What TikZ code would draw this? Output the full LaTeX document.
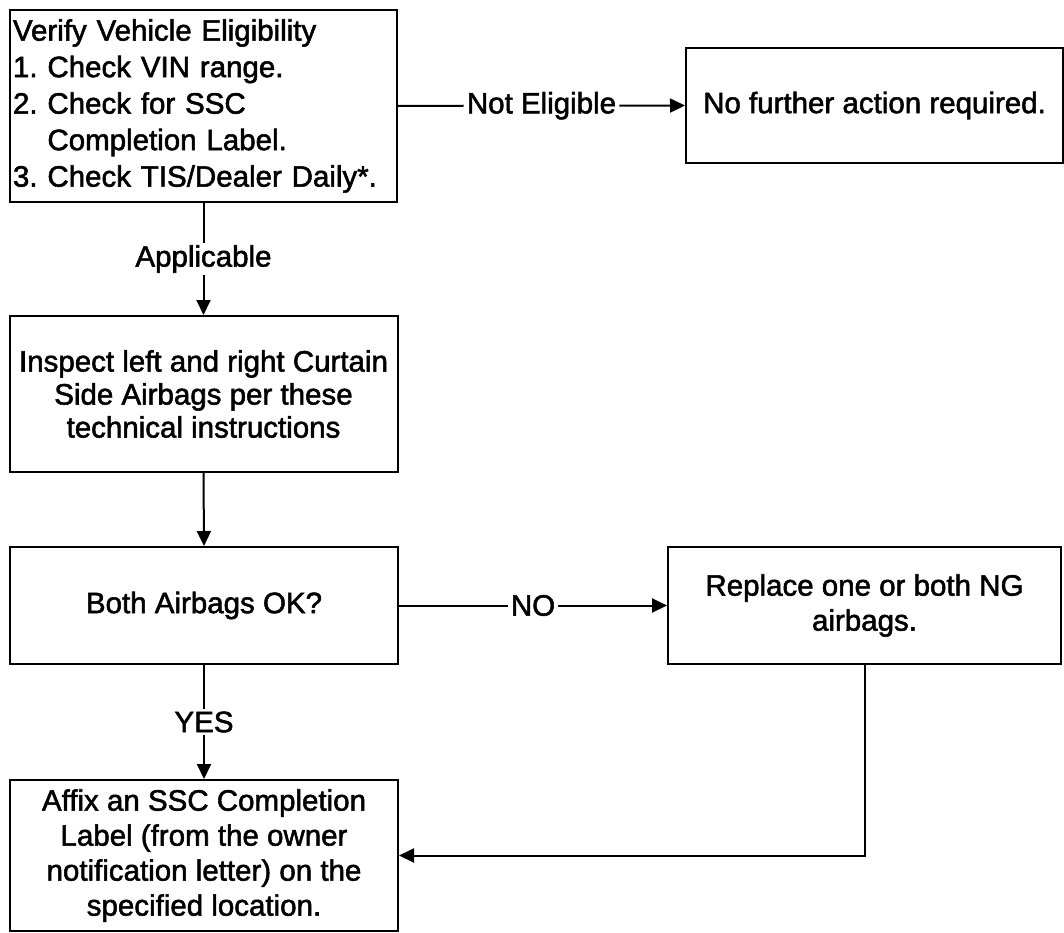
\documentclass[tikz,border=0pt]{standalone}
\usepackage{fontspec}
\setmainfont{Liberation Sans}[RawFeature={embolden=1.8}]
\usetikzlibrary{arrows.meta,calc}
\frenchspacing
\begin{document}
\begin{tikzpicture}[x=1pt,y=-1pt,
  box/.style={draw, line width=2pt, inner sep=0pt, align=center,
              font=\fontsize{29.5}{35}\selectfont},
  lbl/.style={inner xsep=3pt, inner ysep=2pt,
              font=\fontsize{29.5}{35}\selectfont},
  line/.style={line width=2pt},
  conn/.style={line width=2pt, -{Triangle[length=15pt,width=14pt]}}]
\useasboundingbox (0,0) rectangle (1064,933);

\node[box, minimum width=387pt, minimum height=192pt, text width=381pt, align=left,
      font=\fontsize{29.5}{36.5}\selectfont] (elig) at (203.5,106)
  {Verify Vehicle Eligibility\\1. Check VIN range.\\2. Check for SSC\\\phantom{2. }Completion Label.\\3. Check TIS/Dealer Daily*.};
\node[box, minimum width=377pt, minimum height=115pt] (none) at (874.5,105.5)
  {No further action required.};
\node[box, minimum width=388pt, minimum height=156pt, font=\fontsize{29.5}{33}\selectfont] (insp) at (203.5,394)
  {Inspect left and right Curtain\\Side Airbags per these\\technical instructions};
\node[box, minimum width=388pt, minimum height=117pt] (both) at (204,605.5)
  {Both Airbags OK?};
\node[box, minimum width=393pt, minimum height=117pt] (repl) at (864.5,605.5)
  {Replace one or both NG\\airbags.};
\node[box, minimum width=388pt, minimum height=151pt] (affix) at (204,855.5)
  {Affix an SSC Completion\\Label (from the owner\\notification letter) on the\\specified location.};

\node[lbl] (ne) at ($(elig.east)!0.5!(none.west)$) {Not Eligible};
\node[lbl] (app) at ($(elig.south)!0.5!(insp.north)$) {Applicable};
\node[lbl] (no) at ($(both.east)!0.5!(repl.west)$) {NO};
\node[lbl] (yes) at ($(both.south)!0.5!(affix.north)$) {YES};

\draw[line] (elig.east) -- (ne.west);
\draw[conn] (ne.east) -- (none.west);
\draw[line] (elig.south) -- (app.north);
\draw[conn] (app.south) -- (insp.north);
\draw[conn] (insp.south) -- (both.north);
\draw[line] (both.east) -- (no.west);
\draw[conn] (no.east) -- (repl.west);
\draw[line] (both.south) -- (yes.north);
\draw[conn] (yes.south) -- (affix.north);
\draw[conn] (repl.south) |- (affix.east);
\end{tikzpicture}
\end{document}
